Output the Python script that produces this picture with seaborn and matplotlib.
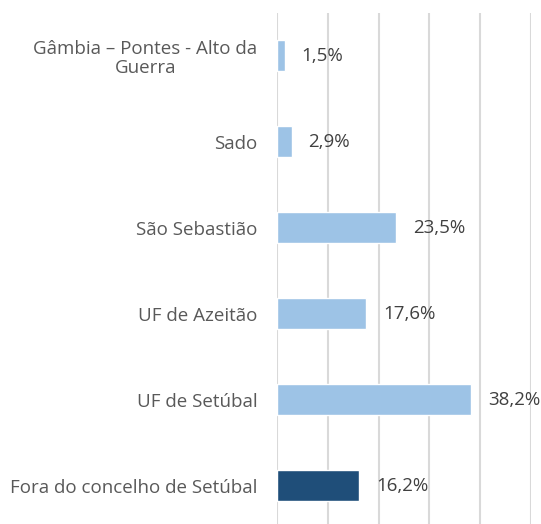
import pandas as pd
import seaborn as sns
import matplotlib.pyplot as plt

# data
categories = ['Gâmbia – Pontes - Alto da\nGuerra', 'Sado', 'São Sebastião',
              'UF de Azeitão', 'UF de Setúbal', 'Fora do concelho de Setúbal']
values = [1.5, 2.9, 23.5, 17.6, 38.2, 16.2]
groups = ['concelho', 'concelho', 'concelho', 'concelho', 'concelho', 'fora']
labels = ['1,5%', '2,9%', '23,5%', '17,6%', '38,2%', '16,2%']

df = pd.DataFrame({'zona': categories, 'pct': values, 'grupo': groups})

sns.set_style('white')
plt.rcParams['font.family'] = ['Open Sans', 'DejaVu Sans']

fig = plt.figure(figsize=(5.41, 5.24), dpi=100)
ax = fig.add_axes([277 / 541, 1 - 528.5 / 524, 254 / 541, 516 / 524])

sns.barplot(data=df, x='pct', y='zona', hue='grupo', orient='h',
            palette={'concelho': '#9DC3E6', 'fora': '#1F4E79'}, saturation=1,
            width=0.36, dodge=False, legend=False, ax=ax)

# value labels, matched to bars by their y position
for cont in ax.containers:
    bar_labels = [labels[int(round(b.get_y() + b.get_height() / 2))] for b in cont]
    ax.bar_label(cont, labels=bar_labels, padding=12, fontsize=13.5, color='#404040')

ax.set_xlim(0, 50)
ax.set_ylim(5.5, -0.5)
ax.set_xticks([0, 10, 20, 30, 40, 50])
ax.set_xticklabels([])
ax.grid(axis='x', color='#D9D9D9', linewidth=1.5)
ax.set_axisbelow(True)
for s in ax.spines.values():
    s.set_visible(False)
ax.set_xlabel('')
ax.set_ylabel('')
ax.tick_params(axis='y', length=0, pad=14, labelsize=13.5, labelcolor='#595959')
ax.tick_params(axis='x', length=0)
for t in ax.get_yticklabels():
    t.set_multialignment('center')
    t.set_linespacing(1.1)

plt.savefig('out.png', dpi=100)
